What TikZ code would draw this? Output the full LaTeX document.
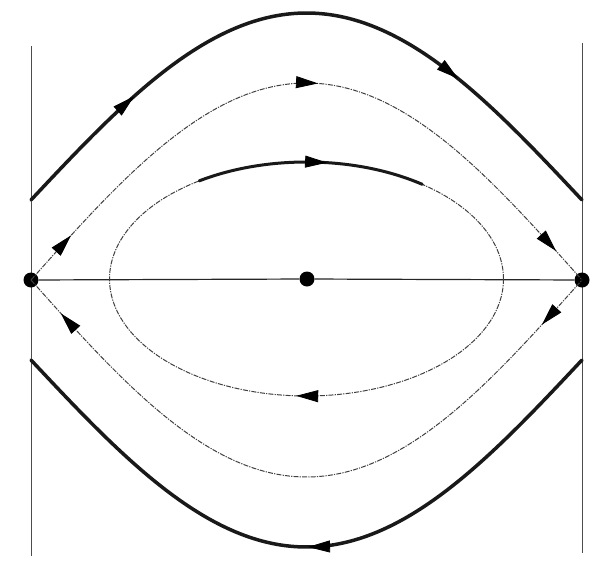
\documentclass[tikz,border=0pt]{standalone}
\usetikzlibrary{arrows.meta}
\begin{document}
\begin{tikzpicture}[x=1pt,y=-1pt,
  thickorbit/.style={line width=3.5pt, black!90, line cap=round},
  sepline/.style={line width=1pt, black!75, dash pattern=on 5pt off 1.2pt on 1.2pt off 1.2pt},
  axisline/.style={line width=1.2pt, black!85},
  vline/.style={line width=0.8pt, black!70},
  dotnode/.style={circle, fill=black, inner sep=0pt, minimum size=15pt},
  tipmark/.style={-{Triangle[length=22pt,width=12pt]}, line width=0.8pt, black}
]
\useasboundingbox (0,0) rectangle (603,576);
\fill[white!97!blue!2] (0,0) rectangle (603,576);

% vertical lines
\coordinate (LT) at (31,46);
\coordinate (LB) at (31,556);
\coordinate (RT) at (582,43);
\coordinate (RB) at (582,553);
\draw[vline] (LT) -- (LB);
\draw[vline] (RT) -- (RB);

% saddles and centre
\node[dotnode] (L) at (31,280) {};
\node[dotnode] (C) at (307,279) {};
\node[dotnode] (R) at (582,280) {};
\draw[axisline] (L) -- (C) -- (R);

% upper rotating orbit
\draw[thickorbit]
  plot[domain=31:582, samples=120, smooth] (\x, {200-187*cos((\x-306.5)/275.5*90)});
\draw[tipmark] plot[domain=129:134, samples=2] (\x, {200-187*cos((\x-306.5)/275.5*90)});
\draw[tipmark] plot[domain=453:458, samples=2] (\x, {200-187*cos((\x-306.5)/275.5*90)});

% lower rotating orbit (flows left)
\draw[thickorbit]
  plot[domain=31:582, samples=120, smooth] (\x, {360+187*cos((\x-306.5)/275.5*90)});
\draw[tipmark] plot[domain=0:1, samples=2] ({313-5*\x}, {360+187*cos((313-5*\x-306.5)/275.5*90)});

% upper separatrix
\draw[sepline]
  plot[domain=31:582, samples=120, smooth] (\x, {280-197*cos((\x-306.5)/275.5*90)});
\draw[tipmark] plot[domain=67:71, samples=2] (\x, {280-197*cos((\x-306.5)/275.5*90)});
\draw[tipmark] plot[domain=313:318, samples=2] (\x, {280-197*cos((\x-306.5)/275.5*90)});
\draw[tipmark] plot[domain=552:556, samples=2] (\x, {280-197*cos((\x-306.5)/275.5*90)});

% lower separatrix (flows left)
\draw[sepline]
  plot[domain=31:582, samples=120, smooth] (\x, {280+197*cos((\x-306.5)/275.5*90)});
\draw[tipmark] plot[domain=0:1, samples=2] ({546-4*\x}, {280+197*cos((546-4*\x-306.5)/275.5*90)});
\draw[tipmark] plot[domain=0:1, samples=2] ({65-4*\x}, {280+197*cos((65-4*\x-306.5)/275.5*90)});

% inner closed orbit
\draw[sepline]
  plot[domain=0:360, samples=120, smooth] ({306.5+197*cos(\x)}, {279+117*sin(\x)});
\draw[tipmark] plot[domain=90:93, samples=2] ({306.5+197*cos(\x)}, {279+117*sin(\x)});
\draw[thickorbit, line width=3pt]
  plot[domain=57:126, samples=40, smooth] ({306.5-197*cos(\x)}, {279-117*sin(\x)});
\draw[tipmark] plot[domain=93:96, samples=2] ({306.5-197*cos(\x)}, {279-117*sin(\x)});
\end{tikzpicture}
\end{document}
